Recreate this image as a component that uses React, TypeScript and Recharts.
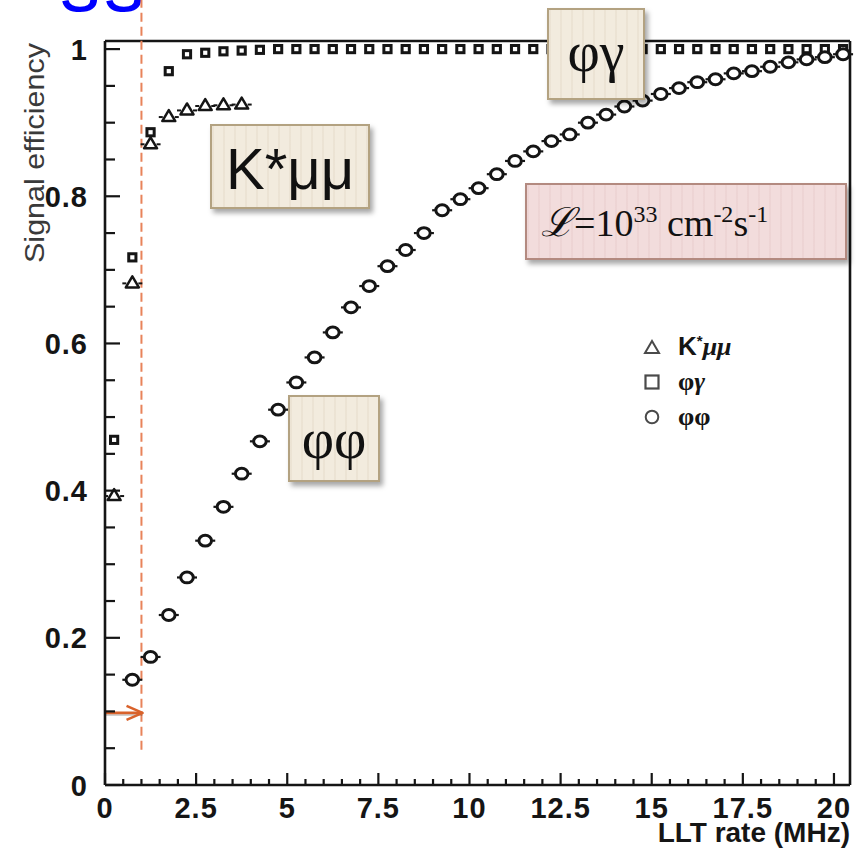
import React from 'react';
import { ScatterChart, Scatter, XAxis, YAxis, ReferenceLine, Legend, Label } from 'recharts';

// ---------- data ----------
const X_KSTAR = [0.25, 0.75, 1.25, 1.75, 2.25, 2.75, 3.25, 3.75];
const Y_KSTAR = [0.394, 0.683, 0.872, 0.909, 0.918, 0.924, 0.925, 0.926];

const X_PHIGAMMA = [
  0.25, 0.75, 1.25, 1.75, 2.25, 2.75, 3.25, 3.75, 4.25, 4.75, 5.25, 5.75, 6.25, 6.75,
  7.25, 7.75, 8.25, 8.75, 9.25, 9.75, 10.25, 10.75, 11.25, 11.75, 12.25, 12.75, 13.25,
  13.75, 14.25, 14.75, 15.25, 15.75, 16.25, 16.75, 17.25, 17.75, 18.25, 18.75, 19.25,
  19.75, 20.25,
];
const Y_PHIGAMMA = [
  0.469, 0.717, 0.887, 0.97, 0.993, 0.995, 0.997, 0.998, 0.999, 1.0, 1.0, 1.0, 1.0, 1.0,
  1.0, 1.0, 1.0, 1.0, 1.0, 1.0, 1.0, 1.0, 1.0, 1.0, 1.0, 1.0, 1.0,
  1.0, 1.0, 1.0, 1.0, 1.0, 1.0, 1.0, 1.0, 1.0, 1.0, 1.0, 1.0,
  1.0, 1.0,
];

const X_PHIPHI = [
  0.75, 1.25, 1.75, 2.25, 2.75, 3.25, 3.75, 4.25, 4.75, 5.25, 5.75, 6.25, 6.75,
  7.25, 7.75, 8.25, 8.75, 9.25, 9.75, 10.25, 10.75, 11.25, 11.75, 12.25, 12.75, 13.25,
  13.75, 14.25, 14.75, 15.25, 15.75, 16.25, 16.75, 17.25, 17.75, 18.25, 18.75, 19.25,
  19.75, 20.25,
];
const Y_PHIPHI = [
  0.143, 0.174, 0.231, 0.282, 0.332, 0.378, 0.423, 0.467, 0.51, 0.547, 0.581, 0.615, 0.649,
  0.678, 0.705, 0.727, 0.75, 0.781, 0.796, 0.811, 0.83, 0.848, 0.861, 0.875, 0.884, 0.9,
  0.911, 0.922, 0.93, 0.939, 0.947, 0.955, 0.959, 0.967, 0.97, 0.976, 0.982, 0.986,
  0.989, 0.993,
];

const X_TICKS = [
  0, 0.5, 1, 1.5, 2, 2.5, 3, 3.5, 4, 4.5, 5, 5.5, 6, 6.5, 7, 7.5, 8, 8.5, 9, 9.5, 10,
  10.5, 11, 11.5, 12, 12.5, 13, 13.5, 14, 14.5, 15, 15.5, 16, 16.5, 17, 17.5, 18, 18.5,
  19, 19.5, 20,
];
const X_MAJOR = [0, 2.5, 5, 7.5, 10, 12.5, 15, 17.5, 20];
const X_LABELS = ['0', '2.5', '5', '7.5', '10', '12.5', '15', '17.5', '20'];

const Y_TICKS = [
  0, 0.05, 0.1, 0.15, 0.2, 0.25, 0.3, 0.35, 0.4, 0.45, 0.5, 0.55, 0.6, 0.65, 0.7, 0.75,
  0.8, 0.85, 0.9, 0.95, 1,
];
const Y_MAJOR = [0, 0.2, 0.4, 0.6, 0.8, 1];
const Y_LABELS = ['0', '0.2', '0.4', '0.6', '0.8', '1'];

const X_DOMAIN: [number, number] = [0, 20.44];
const Y_DOMAIN: [number, number] = [0, 1.011];

const CUT_X = 1.0; // LLT rate working point
const CUT_Y_LOW = 0.048;
const ARROW_Y = 0.098;

const NAME_KSTAR = 'K*μμ';
const NAME_PHIGAMMA = 'φγ';
const NAME_PHIPHI = 'φφ';

const kstarData = X_KSTAR.map((x, i) => ({ x, y: Y_KSTAR[i] }));
const phigammaData = X_PHIGAMMA.map((x, i) => ({ x, y: Y_PHIGAMMA[i] }));
const phiphiData = X_PHIPHI.map((x, i) => ({ x, y: Y_PHIPHI[i] }));

// ---------- styles ----------
const TICK_FONT = '"Liberation Sans", Arial, Helvetica, sans-serif';
const SERIF = '"Liberation Serif", "Times New Roman", serif';
const INK = '#151515';
const Y_TICK_MARGIN = 17;
const X_TICK_MARGIN = 4;

const idx = (arr: number[], v: number) => arr.findIndex((m) => Math.abs(m - v) < 1e-6);

const YTick = (props: any) => {
  const { x, y, payload } = props;
  const v = payload.value;
  const axisX = x + Y_TICK_MARGIN;
  const k = idx(Y_MAJOR, v);
  const major = k >= 0;
  return (
    <g>
      <line x1={axisX} x2={axisX + (major ? 15 : 10)} y1={y} y2={y} stroke={INK} strokeWidth={2.2} />
      {major && (
        <text x={x} y={y + 10.5} textAnchor="end" fontFamily={TICK_FONT} fontWeight="bold" fontSize={29} letterSpacing={1} fill={INK}>
          {Y_LABELS[k]}
        </text>
      )}
    </g>
  );
};

const XTick = (props: any) => {
  const { x, y, payload } = props;
  const v = payload.value;
  const axisY = y - X_TICK_MARGIN;
  const k = idx(X_MAJOR, v);
  const major = k >= 0;
  return (
    <g>
      <line x1={x} x2={x} y1={axisY} y2={axisY - (major ? 12 : 6)} stroke={INK} strokeWidth={2.2} />
      {major && (
        <text x={x} y={axisY + 33} textAnchor="middle" fontFamily={TICK_FONT} fontWeight="bold" fontSize={29} letterSpacing={1} fill={INK}>
          {X_LABELS[k]}
        </text>
      )}
    </g>
  );
};

const YTitle = (props: any) => {
  const vb = props.viewBox || { x: 45, y: 41, width: 60, height: 744 };
  const tx = vb.x + vb.width - 61;
  const ty = vb.y + 112;
  return (
    <text
      x={tx}
      y={ty}
      transform={`rotate(-90 ${tx} ${ty})`}
      textAnchor="middle"
      fontFamily={TICK_FONT}
      fontSize={27}
      fill="#3a3a3a"
      textLength={220}
      lengthAdjust="spacingAndGlyphs"
    >
      Signal efficiency
    </text>
  );
};

const XTitle = (props: any) => {
  const vb = props.viewBox || { x: 105, y: 785, width: 745, height: 30 };
  return (
    <text x={vb.x + vb.width} y={vb.y + 57} textAnchor="end" fontFamily={TICK_FONT} fontWeight="bold" fontSize={28} fill={INK}>
      LLT rate (MHz)
    </text>
  );
};

// ---------- markers ----------
const TriangleMark = (p: any) => {
  const { cx, cy } = p;
  if (cx == null || cy == null) return null;
  return (
    <g>
      <line x1={cx - 10} x2={cx - 6} y1={cy + 1} y2={cy + 1} stroke={INK} strokeWidth={2} />
      <line x1={cx + 6} x2={cx + 10} y1={cy + 1} y2={cy + 1} stroke={INK} strokeWidth={2} />
      <path d={`M${cx},${cy - 6} L${cx + 6.5},${cy + 5} L${cx - 6.5},${cy + 5} Z`} fill="#fff" stroke={INK} strokeWidth={2.5} strokeLinejoin="round" />
    </g>
  );
};

const SquareMark = (p: any) => {
  const { cx, cy } = p;
  if (cx == null || cy == null) return null;
  return <rect x={cx - 3.6} y={cy - 3.6} width={7.2} height={7.2} fill="#fff" stroke={INK} strokeWidth={3} />;
};

const CircleMark = (p: any) => {
  const { cx, cy } = p;
  if (cx == null || cy == null) return null;
  return (
    <g>
      <line x1={cx - 10} x2={cx - 7} y1={cy} y2={cy} stroke={INK} strokeWidth={2.2} />
      <line x1={cx + 7} x2={cx + 10} y1={cy} y2={cy} stroke={INK} strokeWidth={2.2} />
      <ellipse cx={cx} cy={cy} rx={6.3} ry={5.4} fill="#fff" stroke={INK} strokeWidth={3} />
    </g>
  );
};

const ArrowShape = (p: any) => {
  const { x1, y1, x2, y2 } = p;
  if (x1 == null) return null;
  return (
    <g>
      <line x1={x1} y1={y1 + 1.5} x2={x2} y2={y2 + 1.5} stroke="rgba(0,0,0,0.18)" strokeWidth={3} />
      <line x1={x1} y1={y1} x2={x2} y2={y2} stroke="#d9622b" strokeWidth={2.6} />
      <path d={`M${x2 - 16},${y2 - 7} L${x2},${y2} L${x2 - 16},${y2 + 7}`} fill="none" stroke="#d9622b" strokeWidth={2.6} strokeLinejoin="round" />
    </g>
  );
};

// ---------- legend ----------
const legendIcon = (name: string) => {
  const c = '#4a4a4a';
  if (name === NAME_KSTAR) return <path d="M12,4 L19,16 L5,16 Z" fill="none" stroke={c} strokeWidth={2} />;
  if (name === NAME_PHIGAMMA) return <rect x={5.5} y={3.5} width={13} height={13} fill="none" stroke={c} strokeWidth={2.2} />;
  return <circle cx={12} cy={10} r={6.3} fill="none" stroke={c} strokeWidth={2} />;
};

const legendText = (name: string) => {
  if (name === NAME_KSTAR)
    return (
      <span>
        <span style={{ fontFamily: TICK_FONT, fontWeight: 'bold' }}>K</span>
        <span style={{ fontFamily: TICK_FONT, fontWeight: 'bold', fontSize: 15, position: 'relative', top: -9 }}>*</span>
        <span style={{ fontFamily: SERIF, fontStyle: 'italic', fontWeight: 'bold' }}>μμ</span>
      </span>
    );
  if (name === NAME_PHIGAMMA)
    return (
      <span>
        <span style={{ fontFamily: SERIF, fontWeight: 'bold' }}>φ</span>
        <span style={{ fontFamily: SERIF, fontStyle: 'italic', fontWeight: 'bold' }}>γ</span>
      </span>
    );
  return <span style={{ fontFamily: SERIF, fontWeight: 'bold' }}>φφ</span>;
};

const LegendContent = (props: any) => {
  const payload = props.payload || [];
  return (
    <div style={{ display: 'flex', flexDirection: 'column' }}>
      {payload.map((e: any) => (
        <div key={e.value} style={{ height: 35, display: 'flex', alignItems: 'center', fontSize: 26, color: INK }}>
          <svg width={24} height={20} style={{ marginRight: 14 }}>
            {legendIcon(e.value)}
          </svg>
          {legendText(e.value)}
        </div>
      ))}
    </div>
  );
};

// ---------- annotation boxes ----------
const beige = {
  position: 'absolute' as const,
  background:
    'repeating-linear-gradient(90deg, rgba(150,120,80,0.07) 0px, rgba(150,120,80,0.07) 2px, rgba(0,0,0,0) 2px, rgba(0,0,0,0) 11px), #f2ebde',
  border: '2px solid #b3a281',
  boxShadow: '3px 4px 5px rgba(0,0,0,0.35)',
  boxSizing: 'border-box' as const,
  display: 'flex',
  alignItems: 'center',
  justifyContent: 'center',
  color: '#111',
  lineHeight: 1,
};
const pink = {
  ...beige,
  background:
    'repeating-linear-gradient(90deg, rgba(160,90,90,0.06) 0px, rgba(160,90,90,0.06) 2px, rgba(0,0,0,0) 2px, rgba(0,0,0,0) 11px), #f2dcdc',
  border: '2px solid #b38a80',
};

export default function App() {
  return (
    <div style={{ position: 'absolute', left: 0, top: 0, width: 864, height: 848, overflow: 'hidden', background: '#fff' }}>
      <svg width={864} height={30} style={{ position: 'absolute', left: 0, top: 0 }}>
        <text x={60} y={11} fontFamily={TICK_FONT} fontSize={80} fill="#0000ff" letterSpacing={4}>
          ss
        </text>
      </svg>
      <ScatterChart width={864} height={848} margin={{ top: 41, right: 14, bottom: 33, left: 45 }} style={{ position: 'absolute', left: 0, top: 0 }}>
        <XAxis
          type="number"
          dataKey="x"
          domain={X_DOMAIN}
          ticks={X_TICKS}
          interval={0}
          tick={<XTick />}
          tickSize={0}
          tickMargin={X_TICK_MARGIN}
          tickLine={false}
          axisLine={{ stroke: INK, strokeWidth: 2.6 }}
          height={30}
        >
          <Label content={<XTitle />} />
        </XAxis>
        <YAxis
          type="number"
          dataKey="y"
          domain={Y_DOMAIN}
          ticks={Y_TICKS}
          interval={0}
          tick={<YTick />}
          tickSize={0}
          tickMargin={Y_TICK_MARGIN}
          tickLine={false}
          axisLine={{ stroke: INK, strokeWidth: 2.6 }}
          width={60}
        >
          <Label content={<YTitle />} />
        </YAxis>
        <ReferenceLine y={Y_DOMAIN[1]} stroke={INK} strokeWidth={2.6} />
        <ReferenceLine x={X_DOMAIN[1]} stroke={INK} strokeWidth={2.6} />
        <ReferenceLine
          segment={[{ x: CUT_X, y: CUT_Y_LOW }, { x: CUT_X, y: 1.07 }]}
          ifOverflow="visible"
          stroke="#e8835a"
          strokeWidth={2}
          strokeDasharray="9 5"
        />
        <ReferenceLine
          segment={[{ x: 0, y: ARROW_Y }, { x: CUT_X * 1.03, y: ARROW_Y }]}
          ifOverflow="visible"
          shape={<ArrowShape />}
        />
        <Scatter name={NAME_KSTAR} data={kstarData} shape={<TriangleMark />} fill={INK} isAnimationActive={false} legendType="triangle" />
        <Scatter name={NAME_PHIGAMMA} data={phigammaData} shape={<SquareMark />} fill={INK} isAnimationActive={false} legendType="square" />
        <Scatter name={NAME_PHIPHI} data={phiphiData} shape={<CircleMark />} fill={INK} isAnimationActive={false} legendType="circle" />
        <Legend
          layout="vertical"
          align="center"
          verticalAlign="middle"
          content={<LegendContent />}
          wrapperStyle={{ left: 640, top: 329, width: 160, height: 105 }}
        />
      </ScatterChart>

      <div style={{ ...beige, left: 210, top: 124, width: 160, height: 85, fontFamily: TICK_FONT, fontSize: 58 }}>
        <span style={{ position: 'relative', top: 2 }}>K*μμ</span>
      </div>
      <div style={{ ...beige, left: 547, top: 8, width: 98, height: 92, fontFamily: SERIF, fontSize: 56 }}>
        <span style={{ position: 'relative', top: -2 }}>φγ</span>
      </div>
      <div style={{ ...beige, left: 288, top: 395, width: 92, height: 87, fontFamily: SERIF, fontSize: 56 }}>
        <span>φφ</span>
      </div>
      <div style={{ ...pink, left: 525, top: 183, width: 322, height: 77, fontFamily: SERIF, fontSize: 38, justifyContent: 'flex-start', paddingLeft: 14 }}>
        <span style={{ whiteSpace: 'nowrap' }}>
          <span style={{ fontFamily: '"DejaVu Serif", serif', fontStyle: 'italic', fontSize: 40 }}>ℒ</span>=10
          <span style={{ fontSize: 24, position: 'relative', top: -14 }}>33</span> cm
          <span style={{ fontSize: 24, position: 'relative', top: -14 }}>-2</span>s
          <span style={{ fontSize: 24, position: 'relative', top: -14 }}>-1</span>
        </span>
      </div>
    </div>
  );
}
